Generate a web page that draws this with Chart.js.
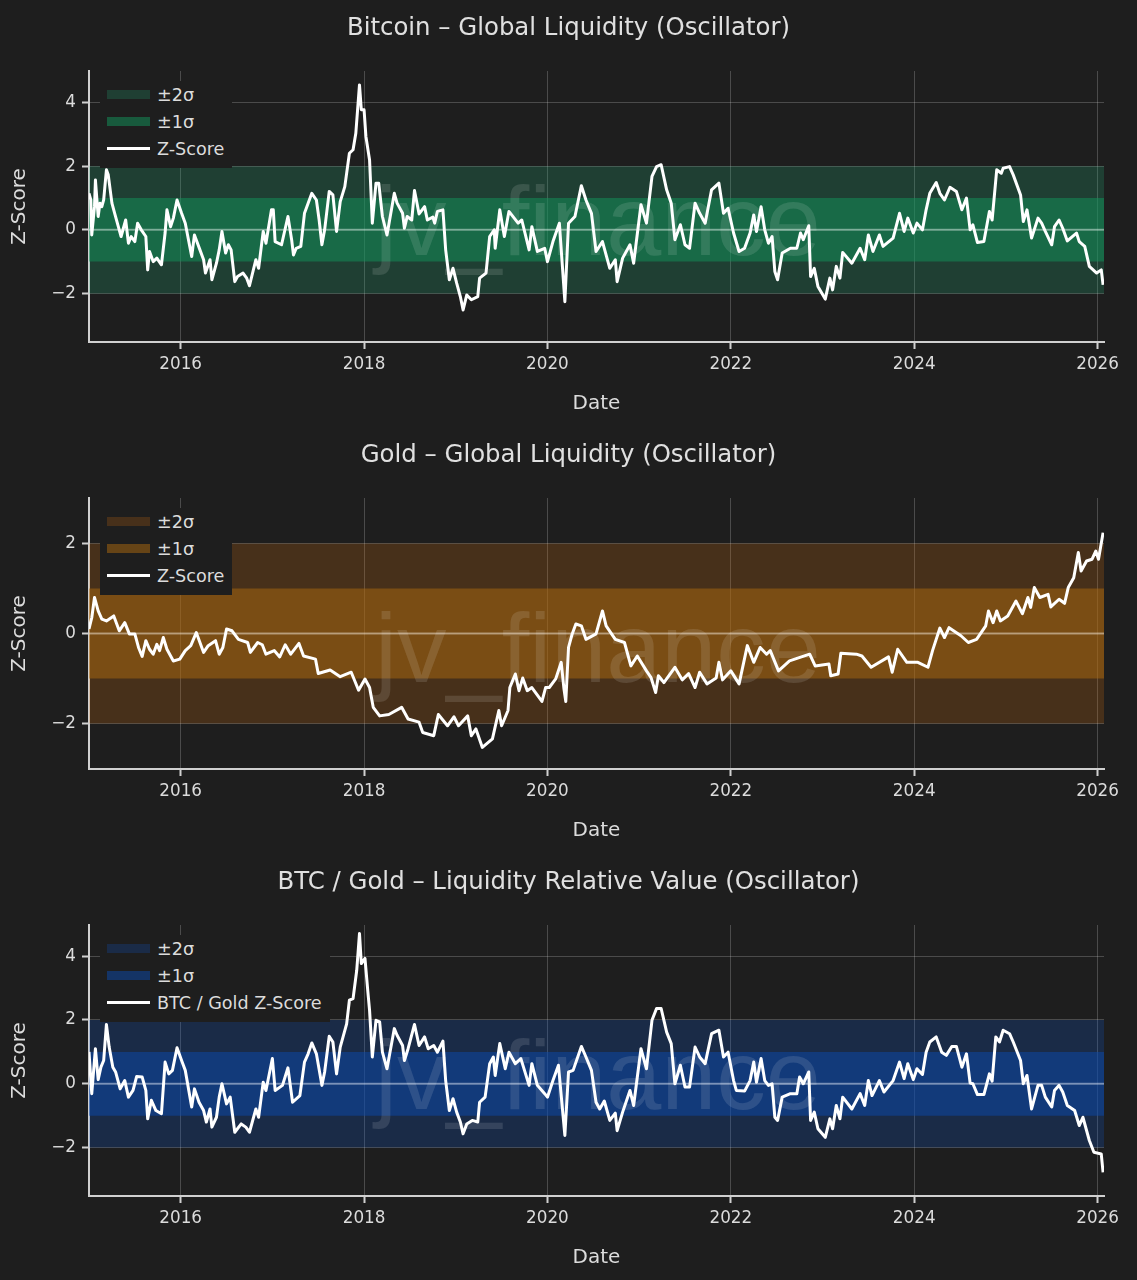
<!DOCTYPE html>
<html>
<head>
<meta charset="utf-8">
<script src="https://cdn.jsdelivr.net/npm/chart.js@4/dist/chart.umd.min.js"></script>
<style>
html, body { margin: 0; padding: 0; background: #1e1e1e; overflow: hidden; }
.panel { position: absolute; left: 0; width: 1137px; height: 427px; }
.legend { position: absolute; left: 100px; top: 81px; height: 87px; background: #1e1e1e; padding: 0 8px 0 7px; box-sizing: border-box;
  font: 17.6px "DejaVu Sans"; color: #dcdcdc; }
.row { height: 27px; display: flex; align-items: center; white-space: nowrap; }
.swatch { width: 43px; margin-right: 7px; }
</style>
</head>
<body>
<script>
var yearTicks = [2016, 2018, 2020, 2022, 2024, 2026];
var btcTicks = [-2, 0, 2, 4];
var goldTicks = [-2, 0, 2];
var ratioTicks = [-2, 0, 2, 4];

var btcDates = [2015.00,2015.02,2015.03,2015.06,2015.07,2015.10,2015.12,2015.14,2015.16,2015.19,2015.21,2015.25,2015.28,2015.32,2015.35,2015.40,2015.43,2015.46,2015.50,2015.53,2015.57,2015.62,2015.64,2015.66,2015.70,2015.74,2015.79,2015.83,2015.85,2015.89,2015.92,2015.96,2016.01,2016.05,2016.12,2016.15,2016.21,2016.25,2016.27,2016.32,2016.34,2016.39,2016.42,2016.45,2016.49,2016.52,2016.55,2016.59,2016.62,2016.68,2016.72,2016.75,2016.82,2016.85,2016.90,2016.93,2016.99,2017.01,2017.03,2017.10,2017.17,2017.21,2017.23,2017.26,2017.31,2017.35,2017.39,2017.43,2017.48,2017.51,2017.54,2017.57,2017.62,2017.66,2017.70,2017.74,2017.79,2017.84,2017.88,2017.91,2017.95,2017.97,2018.00,2018.02,2018.06,2018.09,2018.13,2018.16,2018.20,2018.25,2018.33,2018.36,2018.42,2018.44,2018.47,2018.52,2018.55,2018.60,2018.66,2018.69,2018.75,2018.77,2018.80,2018.86,2018.89,2018.93,2018.97,2019.01,2019.05,2019.08,2019.12,2019.17,2019.24,2019.26,2019.33,2019.37,2019.42,2019.43,2019.48,2019.53,2019.58,2019.68,2019.72,2019.80,2019.83,2019.89,2019.97,2020.00,2020.06,2020.13,2020.19,2020.23,2020.30,2020.37,2020.42,2020.48,2020.53,2020.60,2020.68,2020.74,2020.76,2020.82,2020.90,2020.94,2021.02,2021.08,2021.14,2021.19,2021.24,2021.30,2021.35,2021.39,2021.45,2021.50,2021.55,2021.61,2021.66,2021.72,2021.79,2021.87,2021.92,2021.97,2022.03,2022.09,2022.15,2022.21,2022.25,2022.28,2022.33,2022.37,2022.41,2022.45,2022.48,2022.51,2022.56,2022.65,2022.72,2022.76,2022.79,2022.85,2022.87,2022.91,2022.95,2023.03,2023.08,2023.11,2023.15,2023.19,2023.22,2023.32,2023.41,2023.46,2023.50,2023.55,2023.62,2023.66,2023.77,2023.84,2023.89,2023.93,2023.99,2024.03,2024.09,2024.13,2024.17,2024.24,2024.28,2024.33,2024.39,2024.46,2024.52,2024.57,2024.61,2024.64,2024.69,2024.76,2024.82,2024.85,2024.90,2024.95,2024.97,2025.04,2025.08,2025.16,2025.19,2025.23,2025.28,2025.35,2025.39,2025.43,2025.50,2025.53,2025.58,2025.62,2025.67,2025.77,2025.80,2025.86,2025.91,2025.99,2026.04,2026.06];
var btcValues = [1.15,.94,-.16,.73,1.57,.42,.84,.73,.94,1.89,1.73,.84,.52,.1,-.21,.31,-.42,-.21,-.37,.21,0,-.21,-1.26,-.68,-1.0,-.89,-1.1,-.1,.63,.1,.37,.94,.52,.21,-.84,-.16,-.63,-.94,-1.36,-.94,-1.57,-1.05,-.63,-.05,-.73,-.47,-.63,-1.63,-1.47,-1.36,-1.52,-1.76,-.94,-1.21,-.05,-.42,.63,.63,-.37,-.47,.42,-.31,-.79,-.58,-.52,.52,.84,1.15,.94,.31,-.47,0,1.21,1.1,-.05,.89,1.36,2.41,2.52,3.04,4.56,3.78,3.78,2.94,2.2,.21,1.47,1.47,.42,-.16,1.15,.84,.52,.05,.42,.31,1.24,.5,.73,.31,.4,.21,.58,.63,-.63,-1.57,-1.21,-1.68,-2.1,-2.52,-2.05,-2.2,-2.1,-1.52,-1.36,-.21,0,-.58,.63,-.21,.58,.21,.31,-.63,.1,-.68,-.58,-1.0,-.37,.21,-2.26,.21,.42,1.39,.94,.52,-.68,-.37,-1.21,-.94,-1.63,-.89,-.47,-1.05,.79,.21,1.68,1.99,2.05,1.26,.84,-.31,.16,-.47,-.58,.84,.52,.21,1.26,1.47,.52,.68,-.1,-.68,-.58,-.1,.47,-.05,.73,0,-.42,-.21,-1.31,-1.57,-.73,-.58,-.58,-.1,-.31,.13,-1.47,-1.21,-1.78,-2.18,-1.52,-1.89,-1.15,-1.52,-.71,-1.05,-.58,-.94,-.16,-.68,-.16,-.52,-.26,.52,-.05,.37,-.1,.21,0,.63,1.15,1.49,1.15,.94,1.34,1.21,.63,1.0,0,.16,-.4,-.37,.58,.31,1.89,1.78,1.94,1.99,1.73,1.1,.26,.63,-.26,.37,.21,-.05,-.47,.1,.31,.05,-.35,-.1,-.37,-.52,-1.15,-1.36,-1.26,-1.73];

var goldDates = [2015.00,2015.03,2015.06,2015.10,2015.14,2015.19,2015.27,2015.33,2015.39,2015.44,2015.50,2015.54,2015.58,2015.62,2015.66,2015.70,2015.74,2015.77,2015.81,2015.85,2015.92,2015.99,2016.05,2016.11,2016.17,2016.25,2016.30,2016.38,2016.42,2016.46,2016.50,2016.56,2016.63,2016.73,2016.76,2016.84,2016.89,2016.93,2017.02,2017.08,2017.14,2017.20,2017.29,2017.34,2017.47,2017.50,2017.63,2017.74,2017.86,2017.94,2018.01,2018.06,2018.10,2018.17,2018.27,2018.41,2018.48,2018.60,2018.64,2018.76,2018.81,2018.91,2018.98,2019.03,2019.13,2019.17,2019.22,2019.29,2019.40,2019.47,2019.50,2019.57,2019.59,2019.65,2019.69,2019.73,2019.78,2019.83,2019.94,2019.98,2020.02,2020.09,2020.15,2020.18,2020.20,2020.23,2020.27,2020.31,2020.37,2020.42,2020.53,2020.60,2020.64,2020.74,2020.84,2020.91,2020.98,2021.08,2021.13,2021.18,2021.21,2021.27,2021.39,2021.47,2021.54,2021.61,2021.66,2021.74,2021.84,2021.87,2021.91,2022.00,2022.09,2022.18,2022.25,2022.32,2022.39,2022.43,2022.52,2022.64,2022.86,2022.92,2023.07,2023.09,2023.17,2023.20,2023.37,2023.43,2023.53,2023.72,2023.76,2023.82,2023.92,2024.04,2024.15,2024.20,2024.28,2024.33,2024.38,2024.51,2024.59,2024.68,2024.78,2024.81,2024.86,2024.90,2024.94,2025.02,2025.11,2025.18,2025.24,2025.27,2025.31,2025.37,2025.46,2025.49,2025.58,2025.64,2025.68,2025.74,2025.79,2025.82,2025.88,2025.94,2025.98,2026.01,2026.06];
var goldValues = [.1,.35,.8,.5,.32,.28,.39,.06,.24,-.01,-.01,-.31,-.51,-.16,-.35,-.46,-.24,-.38,-.09,-.35,-.61,-.57,-.38,-.27,.02,-.42,-.27,-.16,-.46,-.31,.1,.06,-.13,-.2,-.42,-.2,-.25,-.46,-.38,-.52,-.25,-.46,-.22,-.5,-.57,-.89,-.81,-.96,-.86,-1.26,-1.01,-1.2,-1.64,-1.83,-1.8,-1.64,-1.9,-1.97,-2.2,-2.27,-1.8,-2.05,-1.85,-2.05,-1.83,-2.27,-2.12,-2.53,-2.34,-1.71,-2.05,-1.71,-1.2,-.9,-1.27,-.99,-1.27,-1.2,-1.51,-1.2,-1.2,-1.01,-.64,-1.23,-1.51,-.31,-.01,.21,.17,-.13,-.01,.5,.17,-.13,-.2,-.72,-.5,-.83,-.98,-1.31,-.94,-1.09,-.75,-1.03,-.89,-1.2,-.86,-1.12,-.99,-.64,-1.03,-.83,-1.12,-.27,-.64,-.31,-.46,-.38,-.83,-.61,-.46,-.72,-.68,-.94,-.9,-.44,-.46,-.5,-.75,-.52,-.86,-.35,-.64,-.64,-.75,-.38,.12,-.09,.13,-.05,-.2,-.13,.17,.5,.24,.5,.28,.39,.72,.44,.8,.58,1.02,.8,.87,.59,.76,.67,1.02,1.24,1.8,1.39,1.61,1.65,1.83,1.65,2.24];

var ratioDates = [2015.00,2015.03,2015.07,2015.10,2015.13,2015.16,2015.19,2015.22,2015.26,2015.29,2015.34,2015.39,2015.43,2015.48,2015.52,2015.58,2015.62,2015.64,2015.68,2015.73,2015.79,2015.83,2015.87,2015.91,2015.96,2016.01,2016.05,2016.12,2016.15,2016.20,2016.25,2016.28,2016.32,2016.34,2016.39,2016.42,2016.45,2016.50,2016.54,2016.59,2016.66,2016.71,2016.75,2016.82,2016.85,2016.90,2016.93,2017.00,2017.03,2017.11,2017.17,2017.22,2017.30,2017.35,2017.39,2017.43,2017.48,2017.54,2017.57,2017.62,2017.66,2017.70,2017.74,2017.81,2017.84,2017.88,2017.92,2017.95,2017.97,2018.01,2018.04,2018.06,2018.09,2018.13,2018.17,2018.20,2018.25,2018.33,2018.36,2018.42,2018.44,2018.48,2018.55,2018.60,2018.66,2018.70,2018.76,2018.80,2018.86,2018.89,2018.93,2018.97,2019.01,2019.05,2019.08,2019.12,2019.18,2019.24,2019.26,2019.32,2019.37,2019.41,2019.43,2019.48,2019.54,2019.58,2019.65,2019.71,2019.80,2019.83,2019.89,2019.97,2020.00,2020.06,2020.12,2020.19,2020.23,2020.28,2020.37,2020.42,2020.48,2020.53,2020.57,2020.62,2020.68,2020.74,2020.76,2020.82,2020.90,2020.94,2021.02,2021.08,2021.14,2021.19,2021.24,2021.30,2021.35,2021.39,2021.45,2021.50,2021.55,2021.61,2021.66,2021.72,2021.79,2021.87,2021.92,2021.97,2022.03,2022.06,2022.15,2022.21,2022.25,2022.28,2022.33,2022.37,2022.41,2022.45,2022.48,2022.51,2022.56,2022.65,2022.72,2022.75,2022.79,2022.85,2022.87,2022.91,2022.95,2023.03,2023.08,2023.11,2023.15,2023.19,2023.22,2023.32,2023.41,2023.46,2023.50,2023.54,2023.62,2023.67,2023.77,2023.84,2023.89,2023.93,2023.99,2024.03,2024.09,2024.13,2024.17,2024.24,2024.30,2024.35,2024.41,2024.46,2024.52,2024.57,2024.61,2024.64,2024.69,2024.76,2024.82,2024.85,2024.89,2024.93,2024.97,2025.04,2025.08,2025.16,2025.19,2025.23,2025.28,2025.35,2025.39,2025.43,2025.50,2025.53,2025.58,2025.62,2025.67,2025.75,2025.80,2025.84,2025.91,2025.96,2026.04,2026.06];
var ratioValues = [1.0,-.31,1.1,.13,.52,.73,1.86,1.15,.52,.37,-.16,.1,-.42,-.21,.23,.21,-.21,-1.1,-.52,-.84,-.94,.68,.31,.42,1.13,.73,.42,-.73,-.16,-.58,-.84,-1.2,-.79,-1.36,-1.05,-.42,0,-.63,-.42,-1.52,-1.26,-1.36,-1.52,-.79,-1.05,.05,-.21,.79,-.21,-.05,.5,-.58,-.37,.68,.94,1.28,.94,-.05,.37,1.49,1.31,.31,1.15,1.88,2.62,2.67,3.56,4.71,3.77,3.93,2.93,2.3,.84,1.99,1.94,.99,.47,1.73,1.52,1.2,.73,1.1,1.86,1.2,1.47,1.1,1.2,.99,1.34,.1,-.84,-.47,-.89,-1.2,-1.57,-1.26,-1.15,-1.2,-.58,-.42,.63,.84,.26,1.26,.47,.99,.63,.79,-.05,.63,-.05,-.31,-.42,.1,.58,-1.62,.37,.42,1.17,.84,.42,-.58,-.79,-.54,-1.15,-.92,-1.47,-.89,-.21,-.68,1.1,.47,1.99,2.36,2.36,1.62,1.26,0,.58,-.1,-.1,1.15,.84,.63,1.57,1.68,.84,.99,.1,-.21,-.23,.1,.68,.05,.79,.1,-.05,0,-1.05,-1.15,-.42,-.31,-.31,.21,0,.37,-1.15,-.89,-1.41,-1.68,-1.1,-1.41,-.68,-1.1,-.42,-.79,-.31,-.68,.1,-.37,.1,-.26,.1,.68,.16,.63,.13,.47,.29,.99,1.31,1.47,.99,.89,1.17,1.17,.52,.94,.02,0,-.34,-.34,.31,.08,1.47,1.31,1.68,1.57,1.31,.73,0,.26,-.79,-.05,-.05,-.42,-.73,-.21,-.05,-.26,-.68,-.84,-1.31,-1.05,-1.78,-2.15,-2.2,-2.78];

var bandEdges = [2015, 2026.07];

function minusSign(v) {
    return String(v).replace('-', '\u2212');
}

// watermark sits over the bands but under the zero line and z-score
var watermark = {
    id: 'watermark',
    beforeDatasetDraw: function(chart, args) {
        if (args.index !== 1) return;
        var ctx = chart.ctx;
        ctx.save();
        ctx.font = '99px "Liberation Sans"';
        ctx.fillStyle = 'rgba(255,255,255,0.12)';
        ctx.textAlign = 'center';
        ctx.textBaseline = 'alphabetic';
        ctx.fillText('jv_finance', 598, chart.chartArea.top + 184);
        ctx.restore();
    }
};

function flat(y) {
    return bandEdges.map(function(x) { return {x: x, y: y}; });
}

function band(y, color, fill) {
    return {data: flat(y), borderWidth: 0, pointRadius: 0, backgroundColor: color, fill: fill};
}

function graph(top, title, dates, values, yMin, yMax, ticks, colors, lineLabel) {
    var panel = document.createElement('div');
    panel.className = 'panel';
    panel.style.top = top + 'px';
    var canvas = document.createElement('canvas');
    canvas.width = 1137;
    canvas.height = 427;
    panel.appendChild(canvas);

    var legend = document.createElement('div');
    legend.className = 'legend';
    var names = ['\u00b12\u03c3', '\u00b11\u03c3', lineLabel];
    for (var i = 0; i < 3; i++) {
        var h = i == 2 ? 3 : 9;
        var bg = i == 2 ? '#ffffff' : colors[i];
        legend.innerHTML += '<div class="row"><span class="swatch" style="height:' + h + 'px;background:' + bg + '"></span>' + names[i] + '</div>';
    }
    panel.appendChild(legend);
    document.body.appendChild(panel);

    var points = dates.map(function(d, i) { return {x: d, y: values[i]}; });

    new Chart(canvas, {
        type: 'line',
        data: {
            datasets: [
                {data: points, borderColor: '#ffffff', borderWidth: 3, pointRadius: 0, tension: 0, fill: false, borderJoinStyle: 'round'},
                {data: flat(0), borderColor: 'rgba(255,255,255,0.4)', borderWidth: 2, pointRadius: 0, fill: false},
                band(1, colors[1], '+1'),
                band(-1, colors[1], false),
                band(2, colors[0], '+1'),
                band(-2, colors[0], false)
            ]
        },
        options: {
            responsive: false,
            animation: false,
            events: [],
            plugins: {
                legend: {display: false},
                tooltip: {enabled: false},
                title: {
                    display: true,
                    text: title,
                    color: '#e0e0e0',
                    font: {family: '"DejaVu Sans"', size: 24.4, weight: 'normal', lineHeight: 1.2},
                    padding: {top: 14.4, bottom: 27.3}
                }
            },
            scales: {
                x: {
                    type: 'linear',
                    min: bandEdges[0],
                    max: bandEdges[1],
                    // fixed axis height, right margin kept outside the title box
                    afterFit: function(s) { s.height = 85; s.paddingRight = 33; },
                    afterBuildTicks: function(s) { s.ticks = yearTicks.map(function(v) { return {value: v}; }); },
                    border: {display: true, color: '#d0d0d0', width: 2},
                    grid: {color: 'rgba(255,255,255,0.2)', lineWidth: 1, tickColor: '#d0d0d0', tickLength: 7, tickWidth: 2},
                    ticks: {
                        color: '#dcdcdc',
                        font: {family: '"DejaVu Sans"', size: 16.8},
                        padding: 6,
                        maxRotation: 0,
                        autoSkip: false,
                        callback: function(v) { return String(v); }
                    },
                    title: {
                        display: true,
                        text: 'Date',
                        color: '#dcdcdc',
                        font: {family: '"DejaVu Sans"', size: 20, lineHeight: 1.2},
                        padding: {top: 0, bottom: 11}
                    }
                },
                y: {
                    min: yMin,
                    max: yMax,
                    afterFit: function(s) { s.width = 89; },
                    afterBuildTicks: function(s) { s.ticks = ticks.map(function(v) { return {value: v}; }); },
                    border: {display: true, color: '#d0d0d0', width: 2},
                    grid: {color: 'rgba(255,255,255,0.2)', lineWidth: 1, tickColor: '#d0d0d0', tickLength: 7, tickWidth: 2},
                    ticks: {
                        color: '#dcdcdc',
                        font: {family: '"DejaVu Sans"', size: 16.8},
                        padding: 6,
                        autoSkip: false,
                        callback: minusSign
                    },
                    title: {
                        display: true,
                        text: 'Z-Score',
                        color: '#dcdcdc',
                        font: {family: '"DejaVu Sans"', size: 20, lineHeight: 1.2},
                        padding: {top: 8, bottom: 0}
                    }
                }
            }
        },
        plugins: [watermark]
    });
}

graph(0, 'Bitcoin \u2013 Global Liquidity (Oscillator)', btcDates, btcValues, -3.53, 5, btcTicks,
    ['rgba(35,195,135,0.2)', 'rgba(17,149,91,0.5)'], 'Z-Score');
graph(427, 'Gold \u2013 Global Liquidity (Oscillator)', goldDates, goldValues, -3.01, 3.01, goldTicks,
    ['rgba(235,120,10,0.2)', 'rgba(173,106,14,0.5)'], 'Z-Score');
graph(854, 'BTC / Gold \u2013 Liquidity Relative Value (Oscillator)', ratioDates, ratioValues, -3.52, 4.98, ratioTicks,
    ['rgba(10,95,235,0.2)', 'rgba(10,73,173,0.5)'], 'BTC / Gold Z-Score');
</script>
</body>
</html>
